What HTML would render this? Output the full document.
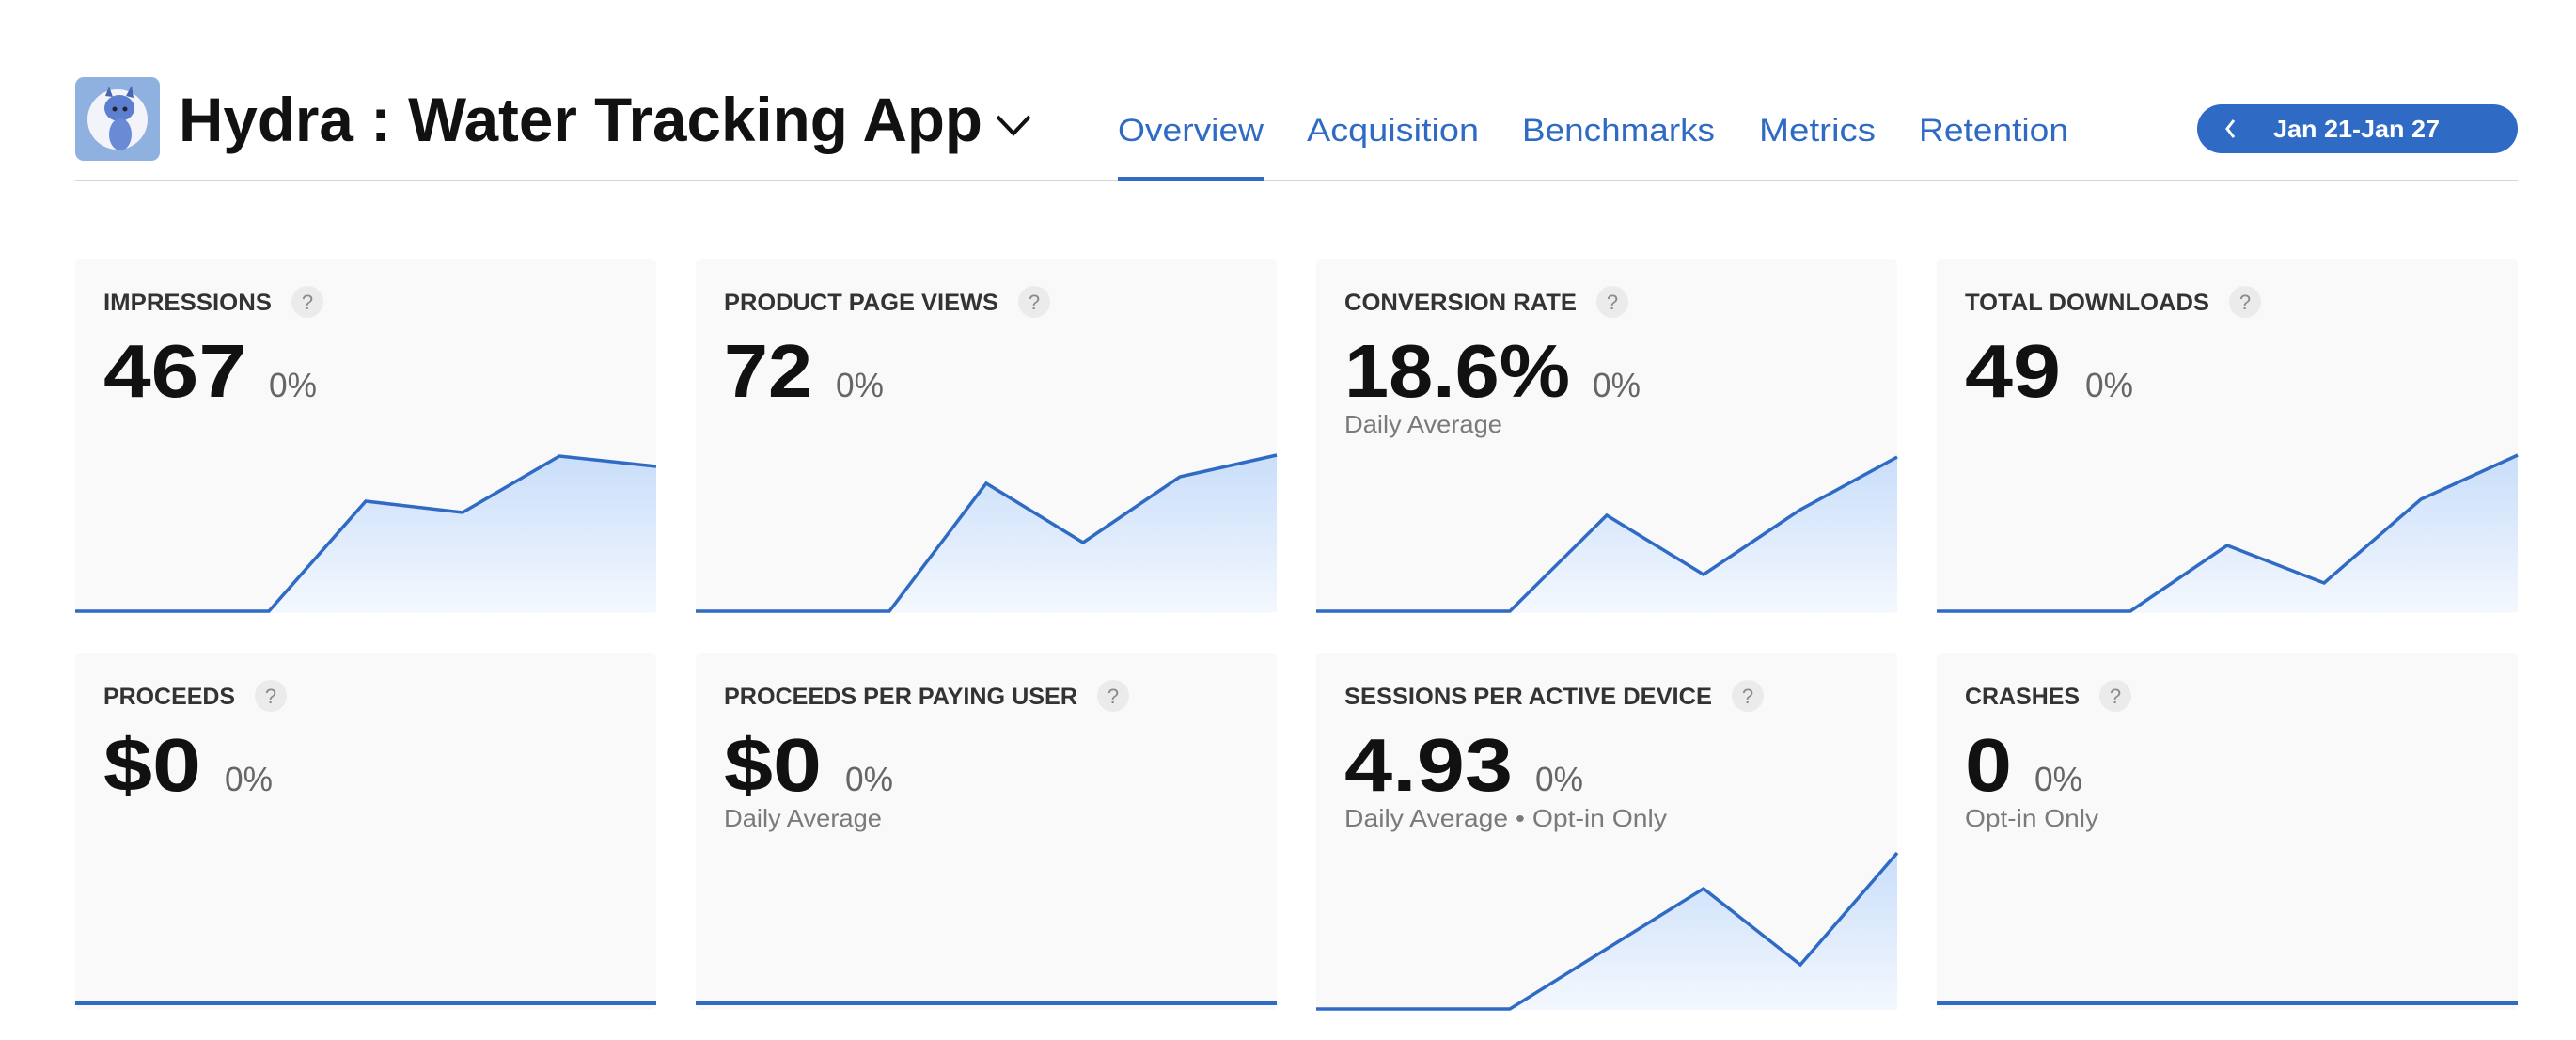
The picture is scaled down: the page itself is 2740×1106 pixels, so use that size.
<!DOCTYPE html>
<html><head><meta charset="utf-8"><style>
html,body{margin:0;padding:0;background:#fff;width:2740px;height:1106px;overflow:hidden}
svg text{font-family:"Liberation Sans",sans-serif}
</style></head><body>
<svg width="2740" height="1106" viewBox="0 0 2740 1106" xmlns="http://www.w3.org/2000/svg">
<defs>
<linearGradient id="g" x1="0" y1="0" x2="0" y2="1"><stop offset="0" stop-color="#c9defa"/><stop offset="1" stop-color="#f4f8fe"/></linearGradient>
</defs>
<!-- icon -->
<rect x="80" y="82" width="90" height="89" rx="9" fill="#8fb1e0"/>
<circle cx="125" cy="127" r="32" fill="#f2f4fa"/>
<ellipse cx="127" cy="115" rx="16" ry="14" fill="#5c7fcf"/>
<ellipse cx="128" cy="143" rx="12" ry="17" fill="#6a8ad6"/>
<path d="M112 102 L116 92 L120 103 Z M134 102 L140 91 L142 104 Z" fill="#4a64b0"/>
<circle cx="122" cy="116" r="2.5" fill="#223"/><circle cx="133" cy="116" r="2.5" fill="#223"/>
<!-- title -->
<text x="190" y="150" font-size="66" font-weight="700" fill="#111" textLength="855" lengthAdjust="spacingAndGlyphs">Hydra : Water Tracking App</text>
<path d="M1061 124 L1078 142 L1095 124" fill="none" stroke="#111" stroke-width="4"/>
<!-- nav -->
<g font-size="34" fill="#2f6bc4">
<text x="1189" y="150" textLength="155" lengthAdjust="spacingAndGlyphs">Overview</text>
<text x="1390" y="150" textLength="183" lengthAdjust="spacingAndGlyphs">Acquisition</text>
<text x="1619" y="150" textLength="205" lengthAdjust="spacingAndGlyphs">Benchmarks</text>
<text x="1871" y="150" textLength="124" lengthAdjust="spacingAndGlyphs">Metrics</text>
<text x="2041" y="150" textLength="159" lengthAdjust="spacingAndGlyphs">Retention</text>
</g>
<rect x="80" y="191" width="2598" height="2" fill="#d6d6d6"/>
<rect x="1189" y="188" width="155" height="4" fill="#2f6bc4"/>
<!-- date -->
<rect x="2337" y="111" width="341" height="52" rx="26" fill="#2f6bc4"/>
<path d="M2376 128 L2369 137 L2376 146" fill="none" stroke="#fff" stroke-width="3"/>
<text x="2418" y="146" font-size="26" font-weight="700" fill="#fff" textLength="177" lengthAdjust="spacingAndGlyphs">Jan 21-Jan 27</text>

<!-- cards -->
<g fill="#f9f9f9">
<rect x="80" y="275" width="618" height="377" rx="6"/>
<rect x="740" y="275" width="618" height="377" rx="6"/>
<rect x="1400" y="275" width="618" height="377" rx="6"/>
<rect x="2060" y="275" width="618" height="377" rx="6"/>
<rect x="80" y="694" width="618" height="380" rx="6"/>
<rect x="740" y="694" width="618" height="380" rx="6"/>
<rect x="1400" y="694" width="618" height="380" rx="6"/>
<rect x="2060" y="694" width="618" height="380" rx="6"/>
</g>

<!-- charts -->
<g fill="url(#g)">
<polygon points="80,650 183,650 286,650 389,533 492,545 595,485 698,496 698,651 80,651"/>
<polygon points="740,650 843,650 946,650 1049,514 1152,577 1255,507 1358,484 1358,651 740,651"/>
<polygon points="1400,650 1503,650 1606,650 1709,548 1812,611 1915,542 2018,486 2018,651 1400,651"/>
<polygon points="2060,650 2163,650 2266,650 2369,580 2472,620 2575,531 2678,484 2678,651 2060,651"/>
<polygon points="1400,1073 1503,1073 1606,1073 1709,1009 1812,945 1915,1026 2018,907 2018,1074 1400,1074"/>
</g>
<g fill="none" stroke="#2f6bc4" stroke-width="3.5" stroke-linejoin="miter">
<polyline points="80,650 183,650 286,650 389,533 492,545 595,485 698,496"/>
<polyline points="740,650 843,650 946,650 1049,514 1152,577 1255,507 1358,484"/>
<polyline points="1400,650 1503,650 1606,650 1709,548 1812,611 1915,542 2018,486"/>
<polyline points="2060,650 2163,650 2266,650 2369,580 2472,620 2575,531 2678,484"/>
<polyline points="1400,1073 1503,1073 1606,1073 1709,1009 1812,945 1915,1026 2018,907"/>
</g>
<g fill="#2f6bc4">
<rect x="80" y="1065" width="618" height="4"/>
<rect x="740" y="1065" width="618" height="4"/>
<rect x="2060" y="1065" width="618" height="4"/>
</g>

<!-- labels -->
<g font-size="25" font-weight="600" fill="#333">
<text x="110" y="330" textLength="179" lengthAdjust="spacingAndGlyphs">IMPRESSIONS</text>
<text x="770" y="330" textLength="292" lengthAdjust="spacingAndGlyphs">PRODUCT PAGE VIEWS</text>
<text x="1430" y="330" textLength="247" lengthAdjust="spacingAndGlyphs">CONVERSION RATE</text>
<text x="2090" y="330" textLength="260" lengthAdjust="spacingAndGlyphs">TOTAL DOWNLOADS</text>
<text x="110" y="749" textLength="140" lengthAdjust="spacingAndGlyphs">PROCEEDS</text>
<text x="770" y="749" textLength="376" lengthAdjust="spacingAndGlyphs">PROCEEDS PER PAYING USER</text>
<text x="1430" y="749" textLength="391" lengthAdjust="spacingAndGlyphs">SESSIONS PER ACTIVE DEVICE</text>
<text x="2090" y="749" textLength="122" lengthAdjust="spacingAndGlyphs">CRASHES</text>
</g>
<g fill="#ebebeb">
<circle cx="327" cy="321" r="17"/><circle cx="1100" cy="321" r="17"/><circle cx="1715" cy="321" r="17"/><circle cx="2388" cy="321" r="17"/>
<circle cx="288" cy="740" r="17"/><circle cx="1184" cy="740" r="17"/><circle cx="1859" cy="740" r="17"/><circle cx="2250" cy="740" r="17"/>
</g>
<g font-size="22" fill="#8a8a8a" text-anchor="middle">
<text x="327" y="329">?</text><text x="1100" y="329">?</text><text x="1715" y="329">?</text><text x="2388" y="329">?</text>
<text x="288" y="748">?</text><text x="1184" y="748">?</text><text x="1859" y="748">?</text><text x="2250" y="748">?</text>
</g>

<!-- big numbers -->
<g font-size="80" font-weight="700" fill="#111">
<text x="110" y="422" textLength="152" lengthAdjust="spacingAndGlyphs">467</text>
<text x="770" y="422" textLength="94" lengthAdjust="spacingAndGlyphs">72</text>
<text x="1430" y="422" textLength="240" lengthAdjust="spacingAndGlyphs">18.6%</text>
<text x="2090" y="422" textLength="102" lengthAdjust="spacingAndGlyphs">49</text>
<text x="110" y="841" textLength="104" lengthAdjust="spacingAndGlyphs">$0</text>
<text x="770" y="841" textLength="104" lengthAdjust="spacingAndGlyphs">$0</text>
<text x="1430" y="841" textLength="179" lengthAdjust="spacingAndGlyphs">4.93</text>
<text x="2090" y="841" textLength="50" lengthAdjust="spacingAndGlyphs">0</text>
</g>
<g font-size="36" fill="#666">
<text x="286" y="422" textLength="51" lengthAdjust="spacingAndGlyphs">0%</text>
<text x="889" y="422" textLength="51" lengthAdjust="spacingAndGlyphs">0%</text>
<text x="1694" y="422" textLength="51" lengthAdjust="spacingAndGlyphs">0%</text>
<text x="2218" y="422" textLength="51" lengthAdjust="spacingAndGlyphs">0%</text>
<text x="239" y="841" textLength="51" lengthAdjust="spacingAndGlyphs">0%</text>
<text x="899" y="841" textLength="51" lengthAdjust="spacingAndGlyphs">0%</text>
<text x="1633" y="841" textLength="51" lengthAdjust="spacingAndGlyphs">0%</text>
<text x="2164" y="841" textLength="51" lengthAdjust="spacingAndGlyphs">0%</text>
</g>
<g font-size="26" fill="#7a7a7a">
<text x="1430" y="460" textLength="168" lengthAdjust="spacingAndGlyphs">Daily Average</text>
<text x="770" y="879" textLength="168" lengthAdjust="spacingAndGlyphs">Daily Average</text>
<text x="1430" y="879" textLength="343" lengthAdjust="spacingAndGlyphs">Daily Average • Opt-in Only</text>
<text x="2090" y="879" textLength="142" lengthAdjust="spacingAndGlyphs">Opt-in Only</text>
</g>
</svg>
</body></html>
